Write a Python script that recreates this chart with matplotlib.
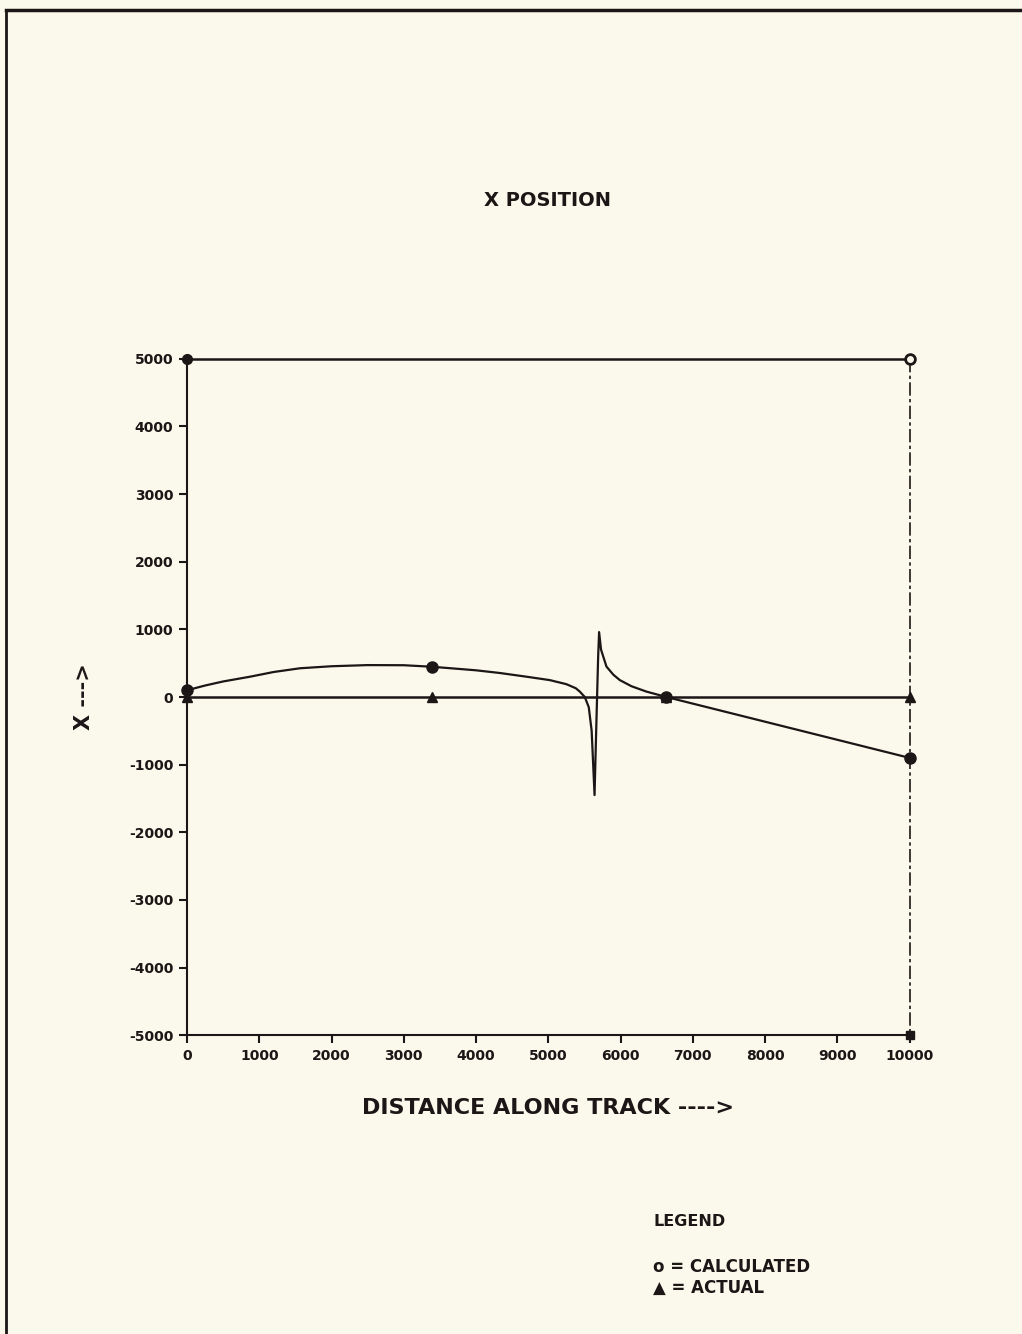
#!/usr/bin/env python
import matplotlib
matplotlib.use('Agg')
import matplotlib.pyplot as plt
from matplotlib.lines import Line2D

# calculated track
calc_x = [0, 250, 500, 870, 1200, 1563, 2000, 2500, 3000, 3384, 4000, 4330, 4700,
          5020, 5250, 5380, 5436, 5505, 5560, 5600, 5640, 5665, 5690, 5703, 5730,
          5805, 5900, 5990, 6150, 6358, 6635, 10000]
calc_y = [100, 170, 230, 300, 370, 425, 455, 472, 470, 448, 395, 355, 300,
          250, 190, 130, 80, 0, -150, -500, -1450, -400, 600, 960, 700,
          450, 330, 250, 160, 80, 0, -900]
calc_mark_x = [0, 3384, 6635, 10000]
calc_mark_y = [100, 448, 0, -900]

# actual track
act_x = [0, 3384, 6635, 10000]
act_y = [0, 0, 0, 0]

# plotter scaling frame points
frame_x = [0, 10000, 10000]
frame_y = [5000, 5000, -5000]

xticks = list(range(0, 10001, 1000))
yticks = list(range(-5000, 5001, 1000))

bg = '#fbf9ec'
ink = '#1c1616'
fam = ['DejaVu Sans']
plt.rcParams['axes.unicode_minus'] = False

fig = plt.figure(figsize=(10.22, 13.34), dpi=100, facecolor=bg)
ax = fig.add_axes([0.183, 0.224, 0.707, 0.507], facecolor=bg)

# frame lines at top and right
ax.plot(frame_x[:2], frame_y[:2], color=ink, lw=1.8, clip_on=False)
ax.plot(frame_x[1:], frame_y[1:], color=ink, lw=1.2, ls=(0, (8, 2, 2, 2)), clip_on=False)
ax.plot([0], [5000], marker='o', ms=7, color=ink, clip_on=False)
ax.plot([10000], [5000], marker='o', ms=7, mfc=bg, mec=ink, mew=2, clip_on=False)
ax.plot([10000], [-5000], marker='s', ms=6, color=ink, clip_on=False)

# actual
ax.plot(act_x, act_y, color=ink, lw=1.8, clip_on=False)
ax.plot(act_x, act_y, ls='none', marker='^', ms=7, color=ink, clip_on=False)

# calculated
ax.plot(calc_x, calc_y, color=ink, lw=1.6, clip_on=False)
ax.plot(calc_mark_x, calc_mark_y, ls='none', marker='o', ms=8, mfc=ink, mec=ink, clip_on=False)

ax.set_xlim(0, 10000)
ax.set_ylim(-5000, 5000)
ax.set_xticks(xticks)
ax.set_yticks(yticks)
ax.set_xticklabels([str(t) for t in xticks], fontsize=10, fontweight='bold', family=fam)
ax.set_yticklabels([str(t) for t in yticks], fontsize=10, fontweight='bold', family=fam)
ax.tick_params(direction='out', length=6, width=1.5, color=ink, labelcolor=ink, pad=4)
for s in ['top', 'right']:
    ax.spines[s].set_visible(False)
for s in ['left', 'bottom']:
    ax.spines[s].set_color(ink)
    ax.spines[s].set_linewidth(1.5)

fig.text(548 / 1022, 1 - 200 / 1334, 'X POSITION', ha='center', va='center',
         fontsize=14, fontweight='bold', family=fam, color=ink)
fig.text(548 / 1022, 1 - 1108 / 1334, 'DISTANCE ALONG TRACK ---->', ha='center', va='center',
         fontsize=16, fontweight='bold', family=fam, color=ink)
fig.text(84 / 1022, 1 - 697 / 1334, 'X --->', ha='center', va='center', rotation=90,
         fontsize=15, fontweight='bold', family=fam, color=ink)

fig.text(690 / 1022, 1 - 1222 / 1334, 'LEGEND', ha='center', va='center',
         fontsize=11.5, fontweight='bold', family=fam, color=ink)
fig.text(653 / 1022, 1 - 1267 / 1334, 'o = CALCULATED', ha='left', va='center',
         fontsize=12, fontweight='bold', family=fam, color=ink)
fig.text(653 / 1022, 1 - 1288 / 1334, '\u25b2 = ACTUAL', ha='left', va='center',
         fontsize=12, fontweight='bold', family=fam, color=ink)

# page border from the scan
fig.add_artist(Line2D([6 / 1022, 6 / 1022], [0, 1 - 10 / 1334], color=ink, lw=2))
fig.add_artist(Line2D([6 / 1022, 1], [1 - 10 / 1334, 1 - 10 / 1334], color=ink, lw=2.5))

fig.savefig('out.png', dpi=100, facecolor=bg)
